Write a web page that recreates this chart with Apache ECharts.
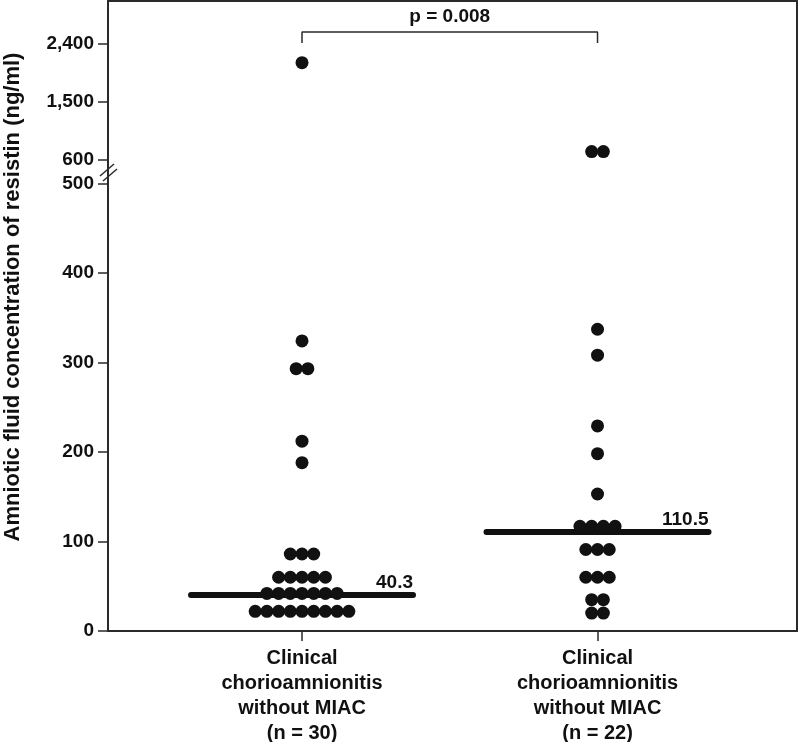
<!DOCTYPE html>
<html><head><meta charset="utf-8">
<script src="https://cdn.jsdelivr.net/npm/echarts@6/dist/echarts.min.js"></script>
<style>html,body{margin:0;padding:0;background:#fff}#c{width:800px;height:742px}</style>
</head><body><div id="c"></div>
<script>
// ---- data ----
const categories = [
  'Clinical\nchorioamnionitis\nwithout MIAC\n(n = 30)',
  'Clinical\nchorioamnionitis\nwithout MIAC\n(n = 22)'
];
const group1Values = [2110, 324, 293, 293, 212, 188,
  86, 86, 86,
  60, 60, 60, 60, 60,
  42, 42, 42, 42, 42, 42, 42,
  22, 22, 22, 22, 22, 22, 22, 22, 22];
const group2Values = [730, 730, 337, 308, 229, 198, 153,
  117, 117, 117, 117,
  91, 91, 91,
  60, 60, 60,
  35, 35,
  20, 20];
const medians = [40.3, 110.5];
const medianLabels = ['40.3', '110.5'];
const lowerTicks = [0, 100, 200, 300, 400, 500];
const upperTicks = [600, 1500, 2400];
const pValueText = 'p = 0.008';
const bracketY = [2416, 2586]; // bracket ends / bar in upper-axis units

// ---- layout constants ----
const BREAK = 500;
const LOWER_MAX = 512.6;
const UPPER_MIN = 413.8, UPPER_MAX = 3067.3;
const X_MIN = 0.3435, X_MAX = 2.675;
const DOT_STEP = 0.0396;
const MED_HALF = 0.3756;
const FONT = "'Liberation Sans', Arial, Helvetica, sans-serif";
const INK = '#111111';

function swarm(values, center) {
  const counts = {}, seen = {};
  values.forEach(v => counts[v] = (counts[v] || 0) + 1);
  return values.map(v => {
    seen[v] = seen[v] === undefined ? 0 : seen[v] + 1;
    return [center + (seen[v] - (counts[v] - 1) / 2) * DOT_STEP, v];
  });
}
const pts = swarm(group1Values, 1).concat(swarm(group2Values, 2));
const lowerPts = pts.filter(p => p[1] <= BREAK);
const upperPts = pts.filter(p => p[1] > BREAK);

const fmt = v => Number(v).toLocaleString('en-US');
const frameLine = { show: true, onZero: false, lineStyle: { color: '#2a2a2a', width: 2 } };
const hidden = { color: 'rgba(0,0,0,0)', opacity: 1 };

const chart = echarts.init(document.getElementById('c'), null, { renderer: 'canvas' });
const series = [
  { type: 'scatter', xAxisIndex: 0, yAxisIndex: 0, data: lowerPts, symbolSize: 13,
    itemStyle: { color: INK, opacity: 1 }, z: 5, silent: true },
  { type: 'scatter', xAxisIndex: 1, yAxisIndex: 1, data: upperPts, symbolSize: 13,
    itemStyle: { color: INK, opacity: 1 }, z: 5, silent: true },
  { type: 'line', xAxisIndex: 1, yAxisIndex: 1,
    data: [[1, bracketY[0]], [1, bracketY[1]], [2, bracketY[1]], [2, bracketY[0]]],
    symbol: 'none', lineStyle: { color: '#2a2a2a', width: 1.5 }, z: 3, silent: true },
  { type: 'scatter', xAxisIndex: 1, yAxisIndex: 1, data: [[1.5, bracketY[1]]], symbolSize: 1,
    itemStyle: hidden, silent: true,
    label: { show: true, position: 'top', distance: 5, formatter: pValueText,
      fontFamily: FONT, fontWeight: 'bold', fontSize: 19, color: INK } }
];
medians.forEach((m, i) => {
  const c = i + 1;
  series.push({ type: 'line', xAxisIndex: 0, yAxisIndex: 0,
    data: [[c - MED_HALF, m], [c + MED_HALF, m]], symbol: 'none',
    lineStyle: { color: INK, width: 6, cap: 'round' }, z: 4, silent: true });
  series.push({ type: 'scatter', xAxisIndex: 0, yAxisIndex: 0, data: [[c + MED_HALF, m]],
    symbolSize: 1, itemStyle: hidden, silent: true, z: 6,
    label: { show: true, position: 'top', align: 'right', distance: 2, formatter: medianLabels[i],
      fontFamily: FONT, fontWeight: 'bold', fontSize: 19, color: INK } });
});

chart.setOption({
  animation: false,
  backgroundColor: '#fff',
  grid: [
    { left: 108, right: 3, top: 172, bottom: 111, outerBoundsMode: 'none', containLabel: false },
    { left: 108, right: 3, top: 1, height: 171, outerBoundsMode: 'none', containLabel: false }
  ],
  xAxis: [
    { gridIndex: 0, type: 'value', min: X_MIN, max: X_MAX, position: 'bottom',
      axisLine: frameLine, splitLine: { show: false },
      axisTick: { show: true, customValues: [1, 2], length: 10, lineStyle: { color: '#2a2a2a', width: 1.5 } },
      axisLabel: { show: true, customValues: [1, 2], formatter: v => categories[Math.round(v) - 1],
        fontFamily: FONT, fontWeight: 'bold', fontSize: 20, lineHeight: 25, color: INK, margin: 15 } },
    { gridIndex: 1, type: 'value', min: X_MIN, max: X_MAX, position: 'top',
      axisLine: frameLine, splitLine: { show: false }, axisTick: { show: false }, axisLabel: { show: false } }
  ],
  yAxis: [
    { gridIndex: 0, type: 'value', min: 0, max: LOWER_MAX, position: 'left',
      axisLine: frameLine, splitLine: { show: false },
      axisTick: { show: true, customValues: lowerTicks, length: 10, lineStyle: { color: '#2a2a2a', width: 1.5 } },
      axisLabel: { show: true, customValues: lowerTicks, formatter: fmt, fontFamily: FONT,
        fontWeight: 'bold', fontSize: 19, color: INK, margin: 14 } },
    { gridIndex: 1, type: 'value', min: UPPER_MIN, max: UPPER_MAX, position: 'left',
      axisLine: frameLine, splitLine: { show: false },
      axisTick: { show: true, customValues: upperTicks, length: 10, lineStyle: { color: '#2a2a2a', width: 1.5 } },
      axisLabel: { show: true, customValues: upperTicks, formatter: fmt, fontFamily: FONT,
        fontWeight: 'bold', fontSize: 19, color: INK, margin: 14 } },
    { gridIndex: 0, type: 'value', min: 0, max: LOWER_MAX, position: 'right',
      axisLine: frameLine, splitLine: { show: false }, axisTick: { show: false }, axisLabel: { show: false } },
    { gridIndex: 1, type: 'value', min: UPPER_MIN, max: UPPER_MAX, position: 'right',
      axisLine: frameLine, splitLine: { show: false }, axisTick: { show: false }, axisLabel: { show: false } }
  ],
  graphic: [
    { type: 'text', x: 13, y: 297, rotation: Math.PI / 2, z: 10,
      style: { text: 'Amniotic fluid concentration of resistin (ng/ml)', fill: INK,
        font: 'bold 22px ' + FONT, align: 'center', verticalAlign: 'middle' } },
    { type: 'line', z: 10, shape: { x1: 100, y1: 176, x2: 114, y2: 164 }, style: { stroke: '#2a2a2a', lineWidth: 1.5 } },
    { type: 'line', z: 10, shape: { x1: 103, y1: 181, x2: 117, y2: 169 }, style: { stroke: '#2a2a2a', lineWidth: 1.5 } }
  ],
  series: series
});
</script>
</body></html>
